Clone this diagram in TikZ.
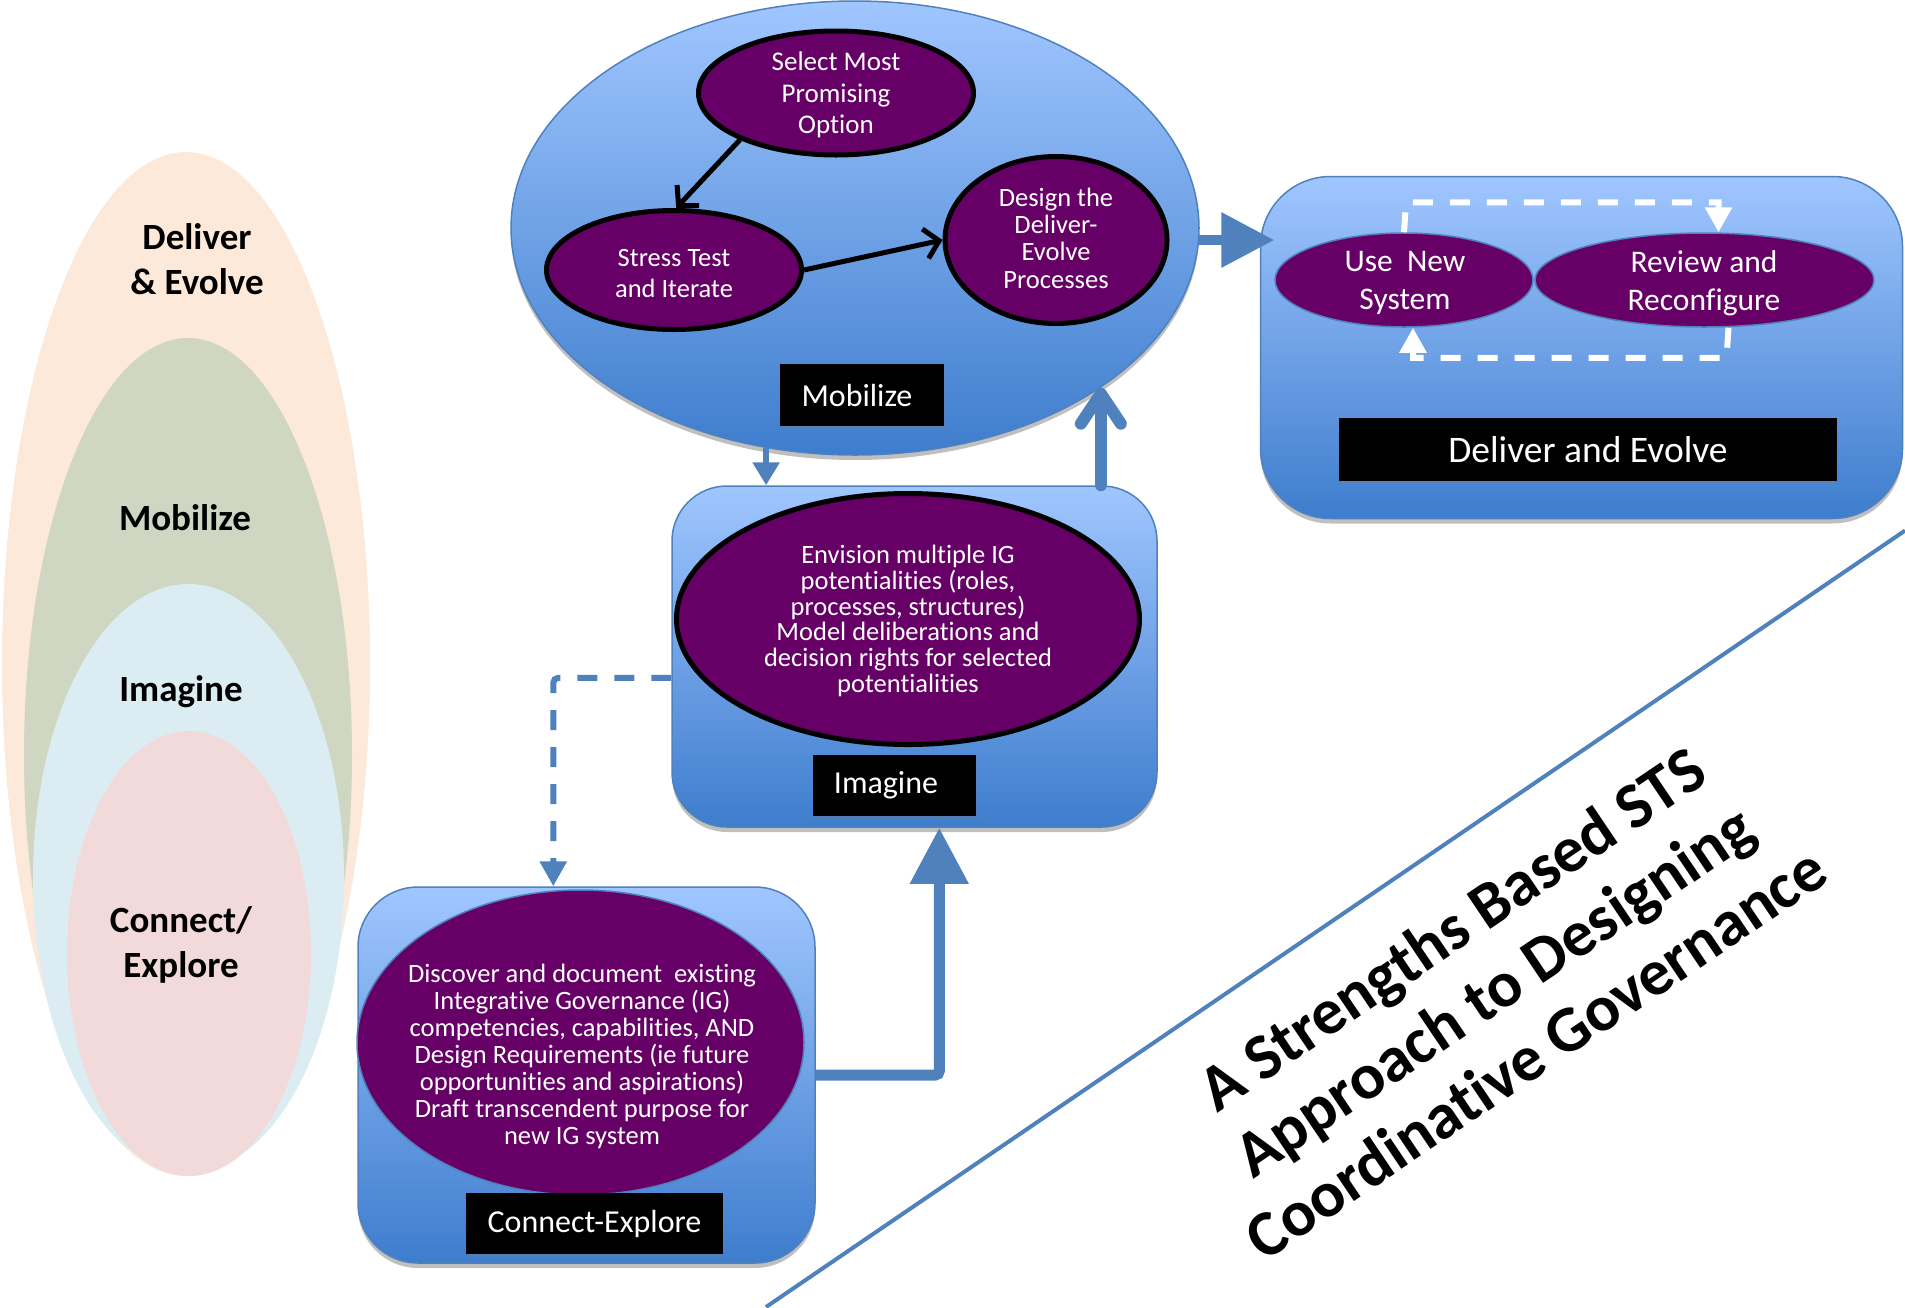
\documentclass[tikz,border=0pt]{standalone}
\usepackage{fontspec}
\setmainfont{Carlito}[Ligatures=NoCommon]
\usetikzlibrary{shapes.geometric,arrows.meta,shadows,calc}
\definecolor{ppurple}{RGB}{102,0,102}
\definecolor{bordblue}{RGB}{79,129,189}
\definecolor{gradtop}{RGB}{160,198,255}
\definecolor{gradbot}{RGB}{62,125,205}
\definecolor{arrblue}{RGB}{79,129,189}
\definecolor{peach}{RGB}{253,233,217}
\definecolor{sage}{RGB}{207,215,195}
\definecolor{lblue}{RGB}{219,237,243}
\definecolor{pinkish}{RGB}{242,218,218}
\begin{document}
\begin{tikzpicture}[x=1pt,y=-1pt,
  softshadow/.style={drop shadow={opacity=0.25, shadow xshift=0pt, shadow yshift=-5pt, fill=black}},
  bluegrad/.style={draw=bordblue, line width=1.5pt, top color=gradtop, bottom color=gradbot, inner sep=0pt, softshadow},
  purpell/.style={ellipse, fill=ppurple, inner sep=0pt},
  blackedge/.style={draw=black, line width=5pt},
  thinedge/.style={draw=bordblue, line width=1.5pt},
  wtext/.style={text=white, align=center, inner sep=0pt},
  tagbox/.style={fill=black, text=white, inner sep=0pt, align=center, drop shadow={opacity=0.25, shadow xshift=1pt, shadow yshift=-3pt}},
  lefttxt/.style={align=center, inner sep=0pt, font=\fontsize{37}{45}\selectfont\bfseries},
  titletxt/.style={inner sep=0pt, anchor=base, rotate=34, font=\fontsize{65}{75}\selectfont\bfseries},
  blkarrow/.style={draw=black, line width=5pt, -{Straight Barb[length=14pt,width=30pt]}},
  whitedash/.style={draw=white, line width=6pt, dash pattern=on 20pt off 17pt, -{Triangle[length=25pt,width=26pt]}}
]
\useasboundingbox (0,0) rectangle (1905,1307);

% ---- left nested ovals ----
\node[ellipse, fill=peach, inner sep=0pt, minimum width=368, minimum height=1024] (o1) at (186,664) {};
\node[ellipse, fill=sage, inner sep=0pt, minimum width=328, minimum height=834] (o2) at (188,755) {};
\node[ellipse, fill=lblue, inner sep=0pt, minimum width=311, minimum height=588] (o3) at (188.5,878) {};
\node[ellipse, fill=pinkish, inner sep=0pt, minimum width=244, minimum height=445] (o4) at (189,953.5) {};
\node[lefttxt] (l1) at (197,259) {Deliver\\\& Evolve};
\node[lefttxt] (l2) at (185,518) {Mobilize};
\node[lefttxt] (l3) at (181,692) {Imagine};
\node[lefttxt] (l4) at (181,945) {Connect/\\Explore};

% ---- diagonal line and title ----
\coordinate (dl1) at (766,1307);
\coordinate (dl2) at (1905,530.6);
\draw[arrblue, line width=4pt] (dl1) -- (dl2);
\node[titletxt] (t1) at (1464,947) {A Strengths Based STS};
\node[titletxt] (t2) at (1506,1009) {Approach to Designing};
\node[titletxt] (t3) at (1548,1071) {Coordinative Governance};

% ---- Mobilize ----
\node[ellipse, bluegrad, minimum width=688, minimum height=454] (mob) at (855,228) {};
\node[purpell, blackedge, minimum width=275, minimum height=124] (sel) at (836,93) {};
\node[wtext, font=\fontsize{27}{31.6}\selectfont] (selt) at (836,95) {Select Most\\Promising\\Option};
\node[purpell, blackedge, minimum width=255, minimum height=119] (str) at (674,270) {};
\node[wtext, font=\fontsize{26.5}{31}\selectfont] (strt) at (674,273) {Stress Test\\and Iterate};
\node[purpell, blackedge, minimum width=222, minimum height=167] (des) at (1056,240) {};
\node[wtext, font=\fontsize{26.5}{27.4}\selectfont] (dest) at (1056,238) {Design the\\Deliver-\\Evolve\\Processes};
\node[tagbox, minimum width=164, minimum height=62] (mobtag) at (862,395) {};
\node[wtext, font=\fontsize{32}{38}\selectfont] (mobtagt) at (857,395) {Mobilize};
\draw[blkarrow] (sel.206) -- (str.88);
\draw[blkarrow] (str.east) -- (des.west);

% ---- Deliver and Evolve ----
\node[rectangle, rounded corners=70pt, bluegrad, minimum width=642, minimum height=342] (dbox) at (1581.5,347.5) {};
\node[purpell, thinedge, minimum width=258, minimum height=94] (use) at (1404,280) {};
\node[wtext, font=\fontsize{31.5}{38}\selectfont] (uset) at (1405,283) {Use\ \ New\\System};
\node[purpell, thinedge, minimum width=339, minimum height=94] (rev) at (1704.5,280) {};
\node[wtext, font=\fontsize{31.5}{38}\selectfont] (revt) at (1704,283) {Review and\\Reconfigure};
\node[tagbox, minimum width=498, minimum height=63, font=\fontsize{37.5}{44}\selectfont] (deltag) at (1588,449.5) {Deliver and Evolve};
\draw[whitedash] (use.north) -- ++(2,-30) -| ($(rev.north)+(14,0)$);
\draw[whitedash] ($(rev.south)+(24,0)$) -- ++(-2,30) -| ($(use.south)+(9,0)$);

% ---- Imagine ----
\node[rectangle, rounded corners=55pt, bluegrad, minimum width=485, minimum height=341] (img) at (914.5,656.5) {};
\node[purpell, blackedge, minimum width=463, minimum height=251] (imgel) at (908,619) {};
\node[wtext, font=\fontsize{26.5}{25.8}\selectfont] (imgt) at (908,621) {Envision multiple IG\\potentialities (roles,\\processes, structures)\\Model deliberations and\\decision rights for selected\\potentialities};
\node[tagbox, minimum width=163, minimum height=61] (imgtag) at (894.5,785.5) {};
\node[wtext, font=\fontsize{32}{38}\selectfont] (imgtagt) at (886,785.5) {Imagine};

% ---- Connect-Explore ----
\node[rectangle, rounded corners=60pt, bluegrad, minimum width=457, minimum height=376] (cbox) at (586.5,1075) {};
\node[purpell, thinedge, minimum width=447, minimum height=305] (cel) at (580.5,1042.5) {};
\node[wtext, font=\fontsize{26.5}{27}\selectfont] (celt) at (582,1056) {Discover and document\ \ existing\\Integrative Governance (IG)\\competencies, capabilities, AND\\Design Requirements (ie future\\opportunities and aspirations)\\Draft transcendent purpose for\\new IG system};
\node[tagbox, minimum width=257, minimum height=61, font=\fontsize{32}{38}\selectfont] (cetag) at (594.5,1223.5) {Connect-Explore};

% ---- connectors between stages ----
\draw[arrblue, line width=10pt, -{Triangle[length=53pt,width=53pt]}] (mob.-2.5) -- (mob.-2.5 -| use.west);
\draw[arrblue, line width=6pt, -{Triangle[length=23pt,width=26pt]}] (mob.248) -- (mob.248 |- img.north);
\draw[arrblue, line width=12pt, line cap=round, -{Straight Barb[length=30pt,width=40pt,line cap=round,line join=round]}] (mob.-33.4 |- img.north) -- (mob.-33.4);
\draw[arrblue, line width=6pt, dash pattern=on 20pt off 17pt, rounded corners=5pt, -{Triangle[length=25pt,width=26pt]}] (img.185.8) -| ($(cbox.north west)+(196,0)$);
\draw[arrblue, line width=11pt, rounded corners=4pt, -{Triangle[length=56pt,width=56pt]}] (cbox.east) -| ($(img.south west)+(268,0)$);
\end{tikzpicture}
\end{document}
